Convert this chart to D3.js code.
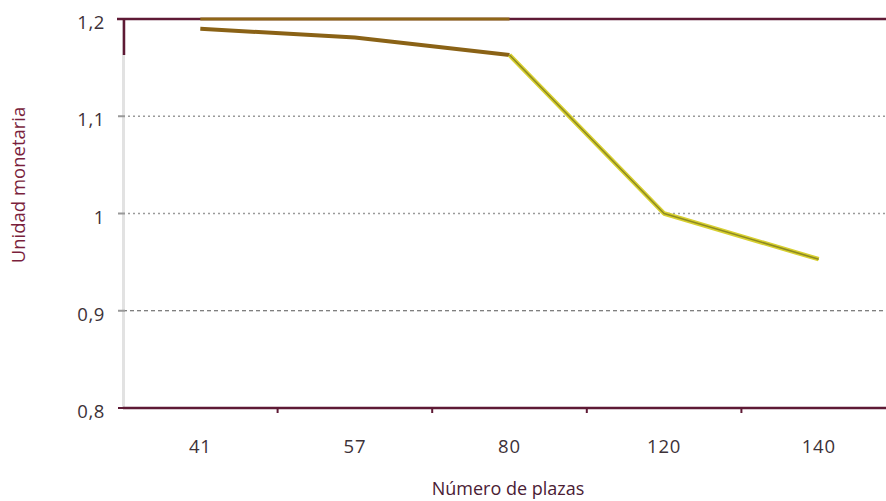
<!DOCTYPE html>
<html><head><meta charset="utf-8">
<script src="https://cdn.jsdelivr.net/npm/d3@7"></script>
<style>body{margin:0;background:#fff}svg{display:block;font-family:"Open Sans",sans-serif}</style>
</head><body><svg id="c" width="886" height="501"></svg>
<script>
const categories = ["41", "57", "80", "120", "140"];
const topSeries = [1.2, 1.2, 1.2];            // 41, 57, 80
const upperPart = [1.19, 1.181, 1.163];        // 41, 57, 80
const lowerPart = [1.163, 1.0, 0.953];         // 80, 120, 140
const yTicks = [0.8, 0.9, 1.0, 1.1, 1.2];
const yTickLabels = ["0,8", "0,9", "1", "1,1", "1,2"];

const svg = d3.select("#c");
const x = d3.scaleBand().domain(categories).range([123, 896]);
const y = d3.scaleLinear().domain([0.8, 1.2]).range([408, 19]);
const cx = c => x(c) + x.bandwidth() / 2;

// gridlines
[1.1, 1.0].forEach(v => {
  svg.append("line").attr("x1", 123).attr("x2", 886).attr("y1", y(v)).attr("y2", y(v))
    .attr("stroke", "#9a9a9a").attr("stroke-width", 1.6).attr("stroke-dasharray", "2,3");
});
svg.append("line").attr("x1", 123).attr("x2", 886).attr("y1", y(0.9)).attr("y2", y(0.9))
  .attr("stroke", "#555").attr("stroke-width", 1).attr("stroke-dasharray", "4,3");

// left axis (light), top part maroon
svg.append("line").attr("x1", 123.5).attr("x2", 123.5).attr("y1", y(1.2)).attr("y2", y(0.8))
  .attr("stroke", "#e2e2e2").attr("stroke-width", 3);
svg.append("line").attr("x1", 124).attr("x2", 124).attr("y1", y(1.2)).attr("y2", 55)
  .attr("stroke", "#5e1a35").attr("stroke-width", 2.5);
yTicks.forEach(v => {
  svg.append("line").attr("x1", 118).attr("x2", 125).attr("y1", y(v)).attr("y2", y(v))
    .attr("stroke", v === 0.8 ? "#5e1a35" : "#999").attr("stroke-width", 2);
});

// top frame line
svg.append("line").attr("x1", 117).attr("x2", 886).attr("y1", y(1.2)).attr("y2", y(1.2))
  .attr("stroke", "#5e1a35").attr("stroke-width", 2.5);

// bottom x axis
const xAxis = svg.append("g").attr("transform", `translate(0,${y(0.8)})`);
xAxis.append("line").attr("x1", 123).attr("x2", 886).attr("y1", 0).attr("y2", 0)
  .attr("stroke", "#5e1a35").attr("stroke-width", 2.5);
categories.slice(1).forEach(c => {
  xAxis.append("line").attr("x1", x(c)).attr("x2", x(c)).attr("y1", 0).attr("y2", 5)
    .attr("stroke", "#5e1a35").attr("stroke-width", 2);
});
xAxis.selectAll("text.xl").data(categories).enter().append("text")
  .attr("x", d => cx(d)).attr("y", 45).attr("text-anchor", "middle")
  .attr("font-size", 18.5).attr("letter-spacing", 0.8).attr("fill", "#3d3238").text(d => d);

// y tick labels
svg.selectAll("text.yl").data(yTicks).enter().append("text")
  .attr("x", 105).attr("y", d => y(d) + 10).attr("text-anchor", "end")
  .attr("font-size", 18.5).attr("letter-spacing", 0.6).attr("fill", "#3d3238").text((d, i) => yTickLabels[i]);

// axis titles
svg.append("text").attr("x", 508).attr("y", 495).attr("text-anchor", "middle")
  .attr("font-size", 18).attr("fill", "#4a2034").text("Número de plazas");
svg.append("text").attr("transform", "translate(25,185) rotate(-90)").attr("text-anchor", "middle")
  .attr("font-size", 18.5).attr("fill", "#7a1f3d").text("Unidad monetaria");

// lines
const line = d3.line().x(d => cx(d.c)).y(d => y(d.v));
const topData = topSeries.map((v, i) => ({c: categories[i], v}));
const upData = upperPart.map((v, i) => ({c: categories[i], v}));
const lowData = lowerPart.map((v, i) => ({c: categories[i + 2], v}));

svg.append("path").attr("d", line(topData)).attr("fill", "none")
  .attr("stroke", "#8f6617").attr("stroke-width", 3);
svg.append("path").attr("d", line(upData)).attr("fill", "none")
  .attr("stroke", "#8a6216").attr("stroke-width", 4);
svg.append("path").attr("d", line(lowData)).attr("fill", "none")
  .attr("stroke", "#d8d030").attr("stroke-width", 4.5).attr("stroke-linejoin", "round");
svg.append("path").attr("d", line(lowData)).attr("fill", "none")
  .attr("stroke", "#8e8a22").attr("stroke-width", 1.6).attr("stroke-linejoin", "round");
</script></body></html>
